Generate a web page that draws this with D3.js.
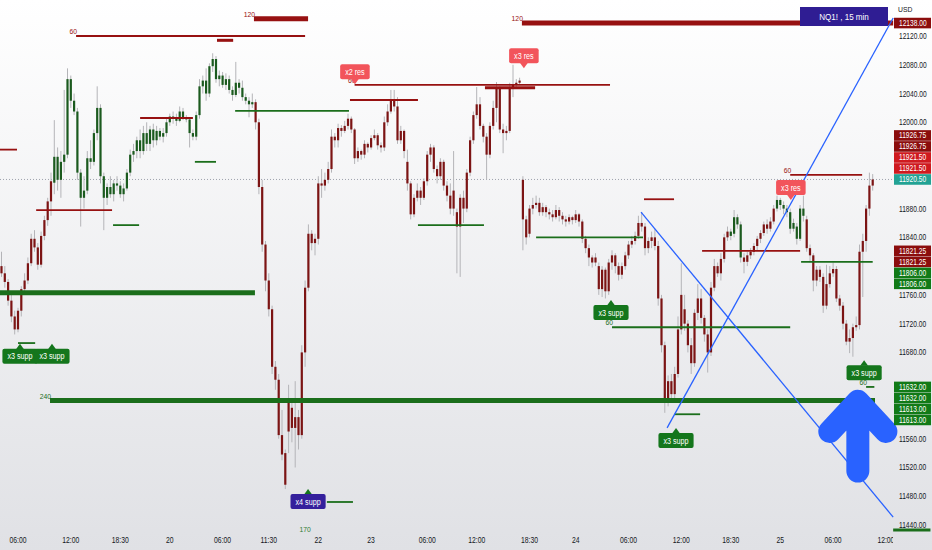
<!DOCTYPE html>
<html><head><meta charset="utf-8">
<script src="https://cdn.jsdelivr.net/npm/d3@7"></script>
<style>html,body{margin:0;padding:0;background:#fff;}svg{display:block;}text{font-family:"Liberation Sans",Arial,sans-serif;}</style>
</head><body><svg id="c" width="932" height="550"></svg>
<script>
// ---------- DATA ----------
// 15-min OHLC candles [open, high, low, close]
const candles = [
[11800,11820,11785,11790],[11790,11800,11770,11778],[11778,11782,11745,11752],[11752,11760,11722,11730],[11730,11738,11705,11712],
[11712,11742,11708,11738],[11738,11772,11730,11768],[11768,11790,11760,11780],[11780,11812,11775,11804],[11804,11845,11800,11838],
[11838,11850,11820,11826],[11826,11832,11795,11802],[11802,11848,11798,11842],[11842,11870,11836,11864],[11864,11895,11856,11890],
[11890,11930,11870,11918],[11916,12003,11900,11952],[11952,11965,11905,11920],[11920,11960,11895,11945],[11945,12045,11930,11955],
[11955,12075,11950,12060],[12060,12065,12020,12030],[12030,12040,12010,12015],[12015,12020,11920,11930],[11930,11935,11855,11895],
[11895,11925,11880,11905],[11905,11960,11900,11950],[11950,11975,11935,11945],[11945,11990,11940,11985],[11985,12050,11975,12020],
[12020,12025,11915,11925],[11925,11930,11850,11895],[11895,11915,11885,11910],[11910,11925,11895,11900],[11900,11920,11890,11915],
[11915,11925,11905,11912],[11912,11918,11895,11900],[11900,11915,11890,11908],[11908,11935,11905,11930],[11930,11962,11925,11955],
[11955,11970,11945,11960],[11960,11980,11950,11975],[11975,11990,11950,11960],[11960,11995,11955,11985],[11985,12000,11960,11970],
[11970,11995,11960,11990],[11990,11998,11965,11975],[11975,11995,11968,11988],[11988,11992,11975,11980],[11980,11992,11972,11985],
[11985,12005,11980,12000],[12000,12012,11995,12008],[12008,12015,11998,12005],[12005,12012,11995,12002],[12002,12022,12000,12015],
[12015,12020,12003,12006],[12006,12010,12000,12004],[12004,12006,11965,11985],[11985,11990,11975,11980],[11980,12015,11975,12010],
[12010,12060,12005,12050],[12050,12065,12040,12058],[12058,12075,12030,12040],[12040,12082,12035,12078],[12078,12096,12070,12088],
[12088,12092,12055,12060],[12060,12072,12050,12065],[12065,12070,12048,12052],[12052,12068,12045,12060],[12060,12065,12040,12045],
[12045,12050,12030,12038],[12038,12084,12035,12055],[12055,12060,12040,12048],[12048,12058,12030,12035],[12035,12040,12025,12030],
[12030,12035,12007,12025],[12025,12040,12020,12028],[12028,12032,11990,12000],[12000,12005,11900,11910],[11910,11920,11820,11830],
[11830,11835,11765,11780],[11780,11790,11730,11740],[11740,11745,11650,11660],[11660,11668,11628,11642],[11642,11650,11560,11565],
[11565,11600,11530,11538],[11540,11545,11490,11496],[11570,11635,11540,11610],[11603,11610,11555,11575],[11575,11640,11520,11590],
[11590,11600,11545,11565],[11565,11690,11560,11680],[11680,11780,11660,11770],[11770,11858,11765,11845],[11845,11850,11822,11832],
[11832,11845,11815,11838],[11838,11925,11830,11915],[11915,11935,11895,11912],[11912,11930,11905,11920],[11920,11945,11915,11935],
[11935,11990,11930,11980],[11980,11985,11965,11975],[11975,11998,11965,11992],[11992,11996,11980,11988],[11988,12002,11985,11995],
[11995,12012,11990,12005],[12005,12008,11985,11990],[11990,11992,11942,11950],[11950,11965,11945,11960],[11960,11962,11948,11955],
[11955,11975,11950,11970],[11970,11972,11958,11965],[11965,11982,11962,11978],[11978,11990,11975,11982],[11982,11985,11962,11968],
[11968,11972,11958,11965],[11965,12008,11960,12000],[12000,12025,11995,12015],[12015,12045,12012,12030],[12030,12045,12015,12022],
[12022,12035,11970,11975],[11975,11995,11970,11988],[11988,11990,11950,11960],[11945,11962,11905,11915],[11915,11918,11865,11872],
[11872,11900,11868,11895],[11895,11915,11890,11905],[11905,11910,11885,11895],[11895,11922,11892,11918],[11918,11960,11912,11955],
[11955,11970,11945,11965],[11965,11968,11930,11935],[11935,11940,11915,11925],[11925,11950,11920,11945],[11945,11948,11905,11912],
[11912,11918,11890,11898],[11898,11915,11872,11880],[11880,11960,11870,11905],[11875,11880,11790,11855],[11855,11900,11785,11895],
[11895,11905,11860,11880],[11880,11935,11875,11930],[11930,11980,11925,11975],[11975,12015,11970,12010],[12010,12049,12005,12025],
[12025,12035,11990,11995],[11995,11998,11972,11980],[11980,11985,11920,11955],[11955,12000,11950,11995],[11995,12030,11990,12020],
[12020,12056,12000,12048],[12048,12050,11985,11990],[11990,11998,11957,11985],[11985,11995,11975,11988],[11988,12055,11985,12048],
[12048,12080,12035,12052],[12052,12060,12048,12055],[12055,12062,12052,12058],[11920,11925,11822,11865],[11865,11870,11830,11840],
[11845,11885,11840,11880],[11880,11895,11872,11885],[11885,11898,11880,11888],[11888,11895,11870,11875],[11875,11888,11870,11882],
[11882,11885,11868,11875],[11875,11880,11865,11872],[11872,11878,11862,11868],[11868,11885,11865,11878],[11878,11882,11862,11870],
[11870,11875,11858,11865],[11865,11870,11855,11862],[11862,11872,11858,11868],[11868,11870,11858,11864],[11864,11878,11860,11872],
[11872,11874,11855,11862],[11862,11865,11832,11838],[11838,11842,11818,11825],[11825,11830,11800,11812],[11812,11815,11798,11805],
[11805,11818,11800,11812],[11800,11805,11760,11768],[11768,11800,11757,11795],[11795,11798,11755,11765],[11765,11810,11760,11805],
[11805,11822,11795,11815],[11815,11818,11790,11800],[11800,11805,11780,11788],[11788,11805,11782,11800],[11800,11820,11795,11815],
[11815,11835,11810,11830],[11830,11842,11825,11835],[11835,11848,11830,11842],[11842,11870,11838,11860],[11860,11875,11848,11855],
[11855,11860,11815,11825],[11825,11840,11818,11835],[11835,11848,11825,11840],[11840,11852,11822,11828],[11828,11835,11745,11755],
[11755,11760,11680,11690],[11690,11695,11596,11615],[11615,11648,11605,11640],[11640,11650,11615,11622],[11622,11660,11615,11650],
[11650,11730,11645,11712],[11712,11804,11705,11760],[11740,11760,11710,11720],[11720,11725,11680,11690],[11690,11700,11650,11665],
[11665,11740,11660,11735],[11735,11775,11725,11755],[11755,11768,11720,11728],[11728,11732,11695,11705],[11705,11712,11652,11680],
[11680,11778,11675,11770],[11770,11810,11765,11800],[11800,11805,11785,11790],[11790,11818,11780,11810],[11810,11845,11805,11840],
[11840,11855,11835,11848],[11848,11852,11836,11842],[11845,11878,11840,11868],[11868,11872,11852,11858],[11858,11862,11805,11812],
[11812,11818,11790,11806],[11806,11820,11800,11815],[11815,11825,11810,11820],[11820,11832,11815,11828],[11828,11842,11822,11838],
[11838,11850,11832,11846],[11846,11862,11842,11858],[11858,11865,11845,11852],[11852,11868,11848,11862],[11862,11885,11858,11880],
[11880,11898,11876,11892],[11892,11895,11878,11885],[11885,11890,11872,11880],[11880,11885,11868,11875],[11875,11880,11845,11852],
[11852,11866,11848,11860],[11855,11860,11830,11838],[11838,11885,11835,11880],[11880,11898,11862,11870],[11865,11870,11820,11825],
[11825,11830,11805,11815],[11815,11818,11765,11780],[11780,11800,11772,11795],[11795,11800,11778,11785],[11785,11790,11735,11745],
[11745,11802,11740,11775],[11775,11800,11770,11790],[11790,11805,11785,11796],[11796,11800,11750,11755],[11755,11760,11738,11745],
[11745,11750,11712,11720],[11720,11725,11690,11695],[11695,11712,11679,11700],[11700,11720,11674,11715],[11715,11730,11710,11718],
[11718,11830,11712,11820],[11820,11845,11757,11835],[11835,11885,11820,11880],[11880,11930,11870,11912],[11912,11928,11905,11920.5]
];
// trend colouring of candles: [firstIndex, lastIndex, trend]
const trendSegments = [[0,15,"down"],[16,76,"up"],[77,220,"down"],[221,224,"up"],[225,234,"down"],[235,243,"up"],[244,264,"down"]];
// time axis labels: [bar index, label]
const timeTicks = [[5,"06:00"],[21,"12:00"],[36,"18:30"],[51,"20"],[67,"06:00"],[81,"11:30"],[96,"22"],[112,"23"],[129,"06:00"],
  [144,"12:00"],[160,"18:30"],[174,"24"],[190,"06:00"],[206,"12:00"],[221,"18:30"],[236,"25"],[252,"06:00"],[268,"12:00"]];
const priceTicks = [11440,11480,11520,11560,11600,11640,11680,11720,11760,11800,11840,11880,11920,11960,12000,12040,12080,12120];
// horizontal levels: [side, startIndex, endIndex, price, tier, label]
const levels = [
["res",22.6,92,12120,1,"60"],["res",65.3,70.2,12114,2,""],["res",76.5,92.9,12144,3,"120"],["res",157.7,270.2,12138,3,"120"],
["res",-1,4.7,11962,1,""],["res",42,58,12006,1,""],["res",10.5,33.5,11878,1,""],["res",107,184.4,12052,1,"60"],
["res",105.6,126.2,12031,1,""],["res",146.5,161.7,12048,2,""],["res",194.7,203.8,11893,1,""],["res",212.3,242,11821.25,1,""],
["res",239,260.8,11926.75,1,"60"],
["sup",-1,76.8,11763,3,""],["sup",33.8,41.7,11857,1,""],["sup",58.6,65,11945,1,""],["sup",70.8,105.3,12016,1,""],
["sup",5,10.2,11693,1,""],["sup",14.7,264.7,11613,3,"240"],["sup",126.2,146.2,11857,1,""],["sup",162,194.4,11840,1,""],
["sup",185,239,11715,1,"60"],["sup",204,211.7,11594,1,""],["sup",242.3,264,11806,1,""],["sup",262,264.5,11632,1,"60"],
["sup",98.6,106.5,11472,1,""],["sup",270.2,281.5,11433,2,""]
];
// free level tags: [text, index, price]
const levelTags = [["170",92,11435]];
// callouts: [text, index, price, kind]
const callouts = [
["x3 supp",5.6,11692,"sup"],["x3 supp",15.3,11692,"sup"],["x4 supp",92.9,11490,"sup4"],["x2 res",107.1,12053,"res"],
["x3 res",158.3,12075,"res"],["x3 res",239.2,11892,"res"],["x3 supp",184.7,11753,"sup"],["x3 supp",204.4,11575,"sup"],
["x3 supp",261.4,11669,"sup"]
];
// trend lines: [index0, price0, index1, price1]
const trendLines = [[193.8,11875,270.2,11451],[201.7,11575,270.2,12145]];
// big arrow: [index, tipPrice, basePrice, wingPrice, wingHalfSpanBars]
const arrows = [[259.5,11612,11515,11570,8.5]];
// price-axis marks: [price, kind]
const lastPrice = 11920.5;
const axisMarks = [[12138,"res"],[11926.75,"res"],[11926.75,"res"],[11921.5,"res2"],[11921.5,"res2"],[11920.5,"last"],
 [11821.25,"res"],[11821.25,"res"],[11806,"sup"],[11806,"sup"],[11632,"sup"],[11632,"sup"],[11613,"sup"],[11613,"sup"]];
const title = "NQ1! , 15 min";
const currency = "USD";

// ---------- DRAW ----------
const W = 932, H = 550, plotR = 893;
const svg = d3.select("#c");
const defs = svg.append("defs");
const grad = defs.append("linearGradient").attr("id","bg").attr("x1",0).attr("y1",0).attr("x2",0).attr("y2",1);
grad.append("stop").attr("offset","0").attr("stop-color","#ffffff");
grad.append("stop").attr("offset","1").attr("stop-color","#e0e1e5");
svg.append("rect").attr("width",W).attr("height",H).attr("fill","url(#bg)");
defs.append("clipPath").attr("id","plot").append("rect").attr("x",0).attr("y",0).attr("width",plotR).attr("height",550);

const xs = d3.scaleLinear().domain([0, candles.length-1]).range([1.5, 872.7]);
const ys = d3.scaleLinear().domain([11440,12120]).range([525,36]);

function addText(parent, x, y, str, o) {
  o = o || {};
  const g = parent.append("g").attr("transform", `translate(${x},${y}) scale(${o.k||0.8},1)`);
  return g.append("text").attr("x",0).attr("y",0).attr("text-anchor",o.anchor||"start")
    .attr("font-size",o.size||9).attr("fill",o.fill||"#131722").attr("font-weight",o.weight||"normal").text(str);
}

const trendOf = i => { for (const s of trendSegments) if (i>=s[0] && i<=s[1]) return s[2]; return "down"; };
const bodyCol = {up:"#1b5a1e", down:"#7c1414"};

// current price dotted line
svg.append("line").attr("x1",0).attr("x2",plotR).attr("y1",ys(lastPrice)).attr("y2",ys(lastPrice))
  .attr("stroke","#9ea3ad").attr("stroke-width",1).attr("stroke-dasharray","1,2");

// candles
const cg = svg.append("g").attr("clip-path","url(#plot)");
cg.selectAll("line.w").data(candles).join("line").attr("class","w")
  .attr("x1",(d,i)=>xs(i)).attr("x2",(d,i)=>xs(i)).attr("y1",d=>ys(d[1])).attr("y2",d=>ys(d[2]))
  .attr("stroke","#b4b4b8").attr("stroke-width",1);
cg.selectAll("rect.b").data(candles).join("rect").attr("class","b")
  .attr("x",(d,i)=>xs(i)-1.1).attr("width",2.2)
  .attr("y",d=>ys(Math.max(d[0],d[3])))
  .attr("height",d=>Math.max(1, Math.abs(ys(d[0])-ys(d[3]))))
  .attr("fill",(d,i)=>bodyCol[trendOf(i)]);

// levels
const lvCol = {res:"#971111", sup:"#1b6e1b"};
const tierW = {1:1.8, 2:3, 3:5};
const lg = svg.append("g");
levels.forEach(l => {
  lg.append("line").attr("x1",xs(l[1])).attr("x2",xs(l[2])).attr("y1",ys(l[3])).attr("y2",ys(l[3]))
    .attr("stroke",lvCol[l[0]]).attr("stroke-width",tierW[l[4]]);
  if (l[5]) addText(lg, xs(l[1])+1, ys(l[3])-2, l[5], {anchor:"end", size:8, fill:lvCol[l[0]], k:0.85});
});
levelTags.forEach(t => addText(lg, xs(t[1]), ys(t[2])+3, t[0], {anchor:"middle", size:8, fill:"#2e7d32", k:0.85}));

// trend lines
const tg = svg.append("g");
trendLines.forEach(t => tg.append("line").attr("x1",xs(t[0])).attr("y1",ys(t[1])).attr("x2",xs(t[2])).attr("y2",ys(t[3]))
  .attr("stroke","#2962ff").attr("stroke-width",1.3));

// callouts
const coFill = {sup:"#14761c", sup4:"#34209c", res:"#f2545b"};
const cog = svg.append("g");
callouts.forEach(c => {
  const x = xs(c[1]), y = ys(c[2]);
  const isRes = c[3]==="res";
  const g = cog.append("g");
  const tmp = addText(g, 0, 0, c[0], {size:9, fill:"#fff"});
  const tw = tmp.node().getComputedTextLength()*0.8;
  tmp.node().parentNode.remove();
  const bw = tw + 10, bh = 15, ph = 5;
  const by = isRes ? y - ph - bh : y + ph;
  const ptrFill = c[3]==="sup4" ? "#14761c" : coFill[c[3]];
  g.append("path").attr("d", isRes ? `M${x-4},${y-ph-0.5}L${x},${y}L${x+4},${y-ph-0.5}Z` : `M${x-4},${y+ph+0.5}L${x},${y}L${x+4},${y+ph+0.5}Z`)
    .attr("fill", ptrFill);
  g.append("rect").attr("x",x-bw/2).attr("y",by).attr("width",bw).attr("height",bh).attr("rx",2).attr("fill",coFill[c[3]]);
  addText(g, x, by+bh/2+3.2, c[0], {anchor:"middle", size:9, fill:"#fff"});
});

// big arrow
arrows.forEach(a => {
  const x = xs(a[0]), yt = ys(a[1]), yb = ys(a[2]), yw = ys(a[3]), dx = xs(a[0]+a[4])-x;
  svg.append("path").attr("d",`M${x},${yb}L${x},${yt}M${x-dx},${yw}L${x},${yt}L${x+dx},${yw}`)
    .attr("fill","none").attr("stroke","#2962ff").attr("stroke-width",23)
    .attr("stroke-linecap","round").attr("stroke-linejoin","round");
});

// title box
svg.append("rect").attr("x",800).attr("y",7).attr("width",88).attr("height",19).attr("fill","#2f1d93");
addText(svg, 844, 20, title, {anchor:"middle", size:9.5, fill:"#fff", k:0.85});

// time axis
const ta = svg.append("g").attr("clip-path","url(#plot)");
timeTicks.forEach(t => addText(ta, xs(t[0]), 543, t[1], {anchor:"middle", size:8.5, fill:"#131722", k:0.8}));

// price axis marks, stacked around the last price label
const markCol = {res:"#8b0d0d", res2:"#cf1a1f", last:"#22a294", sup:"#117a17"};
const gap = 11;
const yl = ys(lastPrice);
const above = axisMarks.filter(m=>m[0]>lastPrice).sort((a,b)=>a[0]-b[0]);
const below = axisMarks.filter(m=>m[0]<lastPrice).sort((a,b)=>b[0]-a[0]);
const placed = [[lastPrice,"last",yl]];
let prev = yl;
above.forEach(m => { const y = Math.min(ys(m[0]), prev-gap); placed.push([m[0],m[1],y]); prev = y; });
prev = yl;
below.forEach(m => { const y = Math.max(ys(m[0]), prev+gap); placed.push([m[0],m[1],y]); prev = y; });

// price axis ticks (skipped where a mark label covers them)
const pa = svg.append("g");
priceTicks.filter(p => !placed.some(m => Math.abs(m[2]-ys(p)) < 9.5))
  .forEach(p => addText(pa, 899, ys(p)+3, d3.format(".2f")(p), {size:8.5, fill:"#131722", k:0.78}));
addText(pa, 898, 12, currency, {size:8, fill:"#131722", k:0.85});

placed.forEach(m => {
  pa.append("rect").attr("x",894).attr("y",m[2]-5.3).attr("width",37).attr("height",10.6).attr("fill",markCol[m[1]]);
  addText(pa, 899, m[2]+3, d3.format(".2f")(m[0]), {size:8.5, fill:"#fff", k:0.78});
});
</script>
</body></html>
